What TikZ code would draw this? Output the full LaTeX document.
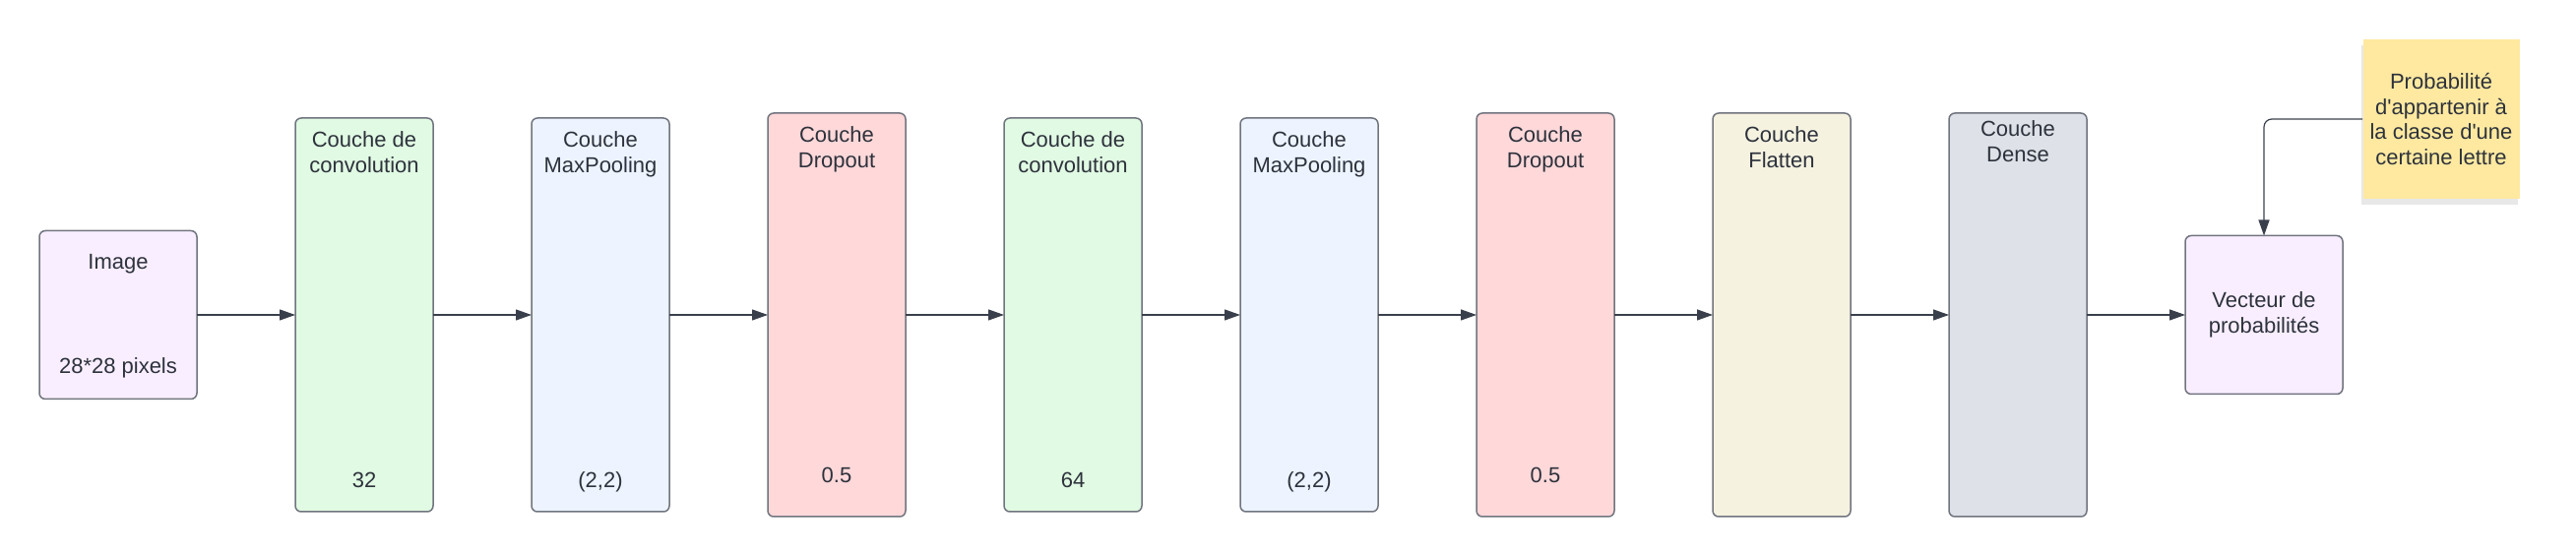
\documentclass[tikz,border=0pt]{standalone}
\usepackage{fontspec}
\setmainfont{Liberation Sans}
\usetikzlibrary{arrows.meta, positioning, shadows}

\definecolor{ink}{RGB}{45,50,60}
\definecolor{edgegray}{RGB}{112,116,126}
\definecolor{arrowink}{RGB}{58,64,75}
\definecolor{imgfill}{RGB}{249,238,255}
\definecolor{convfill}{RGB}{225,250,227}
\definecolor{poolfill}{RGB}{237,244,255}
\definecolor{dropfill}{RGB}{255,216,217}
\definecolor{flatfill}{RGB}{245,242,224}
\definecolor{densefill}{RGB}{222,225,231}
\definecolor{notefill}{RGB}{255,233,160}

\begin{document}
\begin{tikzpicture}[
  x=0.5pt, y=-0.5pt,
  node distance=50pt,
  layer/.style={
    rectangle, rounded corners=3pt,
    minimum width=70pt, minimum height=200pt,
    draw=edgegray, line width=0.75pt, inner sep=0pt, outer sep=0pt
  },
  tallayer/.style={layer, minimum height=205pt},
  endbox/.style={
    rectangle, rounded corners=3pt, outer sep=0pt,
    minimum width=80pt, draw=edgegray, line width=0.75pt,
    fill=imgfill, align=center, text=ink,
    font=\fontsize{11}{13}\selectfont
  },
  note/.style={
    rectangle, fill=notefill, minimum width=79.5pt, minimum height=81pt,
    align=center, text=ink, font=\fontsize{11}{12.8}\selectfont,
    drop shadow={shadow xshift=-1pt, shadow yshift=-3pt, opacity=0.18}
  },
  ttl/.style={font=\fontsize{11}{13}\selectfont, text=ink, align=center, inner sep=0pt, anchor=north},
  val/.style={font=\fontsize{11}{13}\selectfont, text=ink, inner sep=0pt, anchor=base},
  arr/.style={-{Triangle[length=8pt, width=5.5pt]}, line width=0.6pt, draw=arrowink},
]

\useasboundingbox (0,0) rectangle (2617,565);

%% ---- input ----
\node[endbox, minimum height=85.5pt] (img) at (120,320) {};
\node[val] (imgt) at ([yshift=-19.5pt]img.north) {Image};
\node[val] (imgv) at ([yshift=13pt]img.south) {28*28 pixels};

%% ---- layers ----
\node[layer, fill=convfill, right=of img] (conv1) {};
\node[layer, fill=poolfill, right=of conv1] (pool1) {};
\node[tallayer, fill=dropfill, right=of pool1] (drop1) {};
\node[layer, fill=convfill, right=of drop1] (conv2) {};
\node[layer, fill=poolfill, right=of conv2] (pool2) {};
\node[tallayer, fill=dropfill, right=of pool2] (drop2) {};
\node[tallayer, fill=flatfill, right=of drop2] (flat) {};
\node[tallayer, fill=densefill, right=of flat] (dense) {};

%% titles
\node[ttl] (conv1t) at ([yshift=-6.6pt]conv1.north) {Couche de\\convolution};
\node[ttl] (pool1t) at ([yshift=-6.6pt]pool1.north) {Couche\\MaxPooling};
\node[ttl] (drop1t) at ([yshift=-6.6pt]drop1.north) {Couche\\Dropout};
\node[ttl] (conv2t) at ([yshift=-6.6pt]conv2.north) {Couche de\\convolution};
\node[ttl] (pool2t) at ([yshift=-6.6pt]pool2.north) {Couche\\MaxPooling};
\node[ttl] (drop2t) at ([yshift=-6.6pt]drop2.north) {Couche\\Dropout};
\node[ttl] (flatt)  at ([yshift=-6.6pt]flat.north)  {Couche\\Flatten};
\node[ttl] (denset) at ([yshift=-3.6pt]dense.north) {Couche\\Dense};

%% parameters
\node[val] (conv1v) at ([yshift=12pt]conv1.south) {32};
\node[val] (pool1v) at ([yshift=12pt]pool1.south) {(2,2)};
\node[val] (drop1v) at ([yshift=17pt]drop1.south) {0.5};
\node[val] (conv2v) at ([yshift=12pt]conv2.south) {64};
\node[val] (pool2v) at ([yshift=12pt]pool2.south) {(2,2)};
\node[val] (drop2v) at ([yshift=17pt]drop2.south) {0.5};

%% ---- output ----
\node[endbox, minimum height=80.5pt, right=of dense] (vect) {Vecteur de\\probabilités};
\node[note] (note) at (2480,121)
  {Probabilité\\d\textquotesingle appartenir à\\la classe d\textquotesingle une\\certaine lettre};

%% ---- connections ----
\draw[arr] (img)   -- (conv1);
\draw[arr] (conv1) -- (pool1);
\draw[arr] (pool1) -- (drop1);
\draw[arr] (drop1) -- (conv2);
\draw[arr] (conv2) -- (pool2);
\draw[arr] (pool2) -- (drop2);
\draw[arr] (drop2) -- (flat);
\draw[arr] (flat)  -- (dense);
\draw[arr] (dense) -- (vect);
\draw[arr, rounded corners=4pt] (note.west) -| (vect.north);

\end{tikzpicture}
\end{document}
